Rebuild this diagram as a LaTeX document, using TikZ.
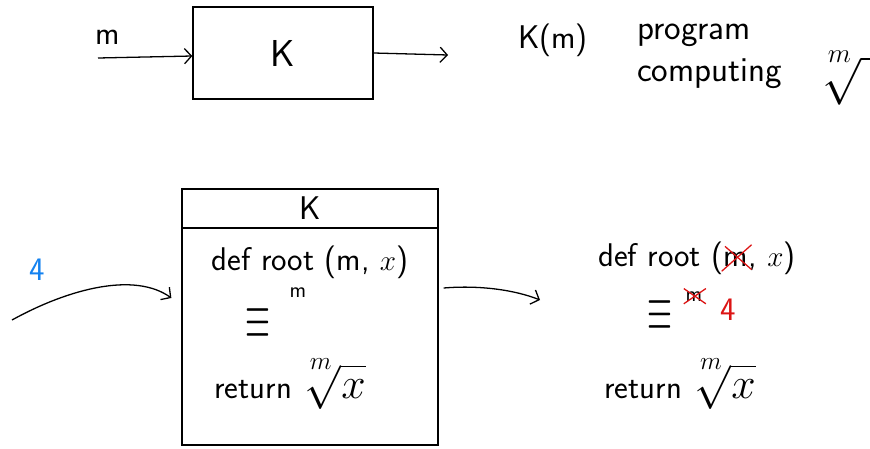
\documentclass[tikz,border=0pt]{standalone}
\usepackage{graphicx}
\usepackage{amsmath}
\usetikzlibrary{positioning, arrows.meta}
\definecolor{penblue}{RGB}{20,130,240}
\definecolor{penred}{RGB}{220,20,20}
\newcommand{\rootof}[1]{\scalebox{1.5}{$\sqrt[\uproot{6}\leftroot{-1}m]{#1}$}}
\begin{document}
\begin{tikzpicture}[
  x=0.03cm, y=-0.03cm,
  hand/.style  = {font=\sffamily\fontsize{28}{36}\selectfont, inner sep=0pt},
  small/.style = {font=\sffamily\fontsize{19}{22}\selectfont, inner sep=0pt},
  blackbox/.style = {draw, line width=1.1pt, inner sep=0pt},
  wire/.style  = {line width=1.1pt, -{Straight Barb[length=6pt,width=13pt]}},
  strike/.style = {penred, line width=1.1pt},
]
\useasboundingbox (0,0) rectangle (870,448);
% top: the program K as a black box
\node[blackbox, minimum width=5.4cm, minimum height=2.76cm, font=\sffamily\fontsize{32}{36}\selectfont] (ktop) at (283,53) {K};
\coordinate (min) at (98,58);
\coordinate (mout) at (448,55);
\node[hand] (mlab) at (108,37) {m};
\draw[wire] (min) -- ([yshift=-0.09cm]ktop.west);
\draw[wire] (ktop.east) -- (mout);
\node[hand] (km) at (553,40) {K(m)};
\node[hand, align=left, anchor=north west, font=\sffamily\fontsize{30}{36}\selectfont] (prog) at (637,24) {program\\computing};
\node[hand, anchor=west] (rt) at (812,78) {\scalebox{1.6}{$\sqrt[\uproot{6}\leftroot{-1}m]{\phantom{xx}}$}};
% bottom: K with its code inside
\node[blackbox, minimum width=7.68cm, minimum height=7.68cm] (kbig) at (310,317) {};
\node[blackbox, minimum width=7.68cm, minimum height=1.17cm, anchor=north, font=\sffamily\fontsize{28}{30}\selectfont] (khdr) at (kbig.north) {K};
\node[hand, penblue] (four) at (37,270) {4};
\coordinate (qin) at (12,320);
\coordinate (qout) at (540,300);
\draw[wire] (qin) .. controls (70,288) and (135,272) .. ([xshift=-0.3cm,yshift=0.57cm]kbig.west);
\draw[wire] ([xshift=0.15cm,yshift=0.87cm]kbig.east) .. controls (480,285) and (515,290) .. (qout);
\node[hand] (def1) at (310,262) {def root (m, $x$)};
\node[hand] (eq1) at (258,324) {\scalebox{1.1}[2.2]{$\equiv$}};
\node[small] (m1) at (298,293) {m};
\node[hand] (ret1) at (290,384) {return\hspace{3pt}\rootof{x}};
% right: the same code with m fixed to 4
\node[hand, anchor=base west] (def2a) at (598,266) {def root (};
\node[hand, anchor=base west] (m2) at (def2a.base east) {m};
\node[hand, anchor=base west] (def2b) at (m2.base east) {, $x$)};
\draw[strike] ([shift={(-0.05cm,-0.15cm)}]m2.south west) -- ([shift={(0.1cm,0.2cm)}]m2.north east);
\draw[strike] ([shift={(0.05cm,0.15cm)}]m2.north west) -- ([shift={(0.1cm,-0.1cm)}]m2.south east);
\node[hand] (eq2) at (660,316) {\scalebox{1.1}[2.2]{$\equiv$}};
\node[small] (m3) at (694,297) {m};
\draw[strike] ([shift={(-0.05cm,-0.05cm)}]m3.south west) -- ([shift={(0.1cm,0.1cm)}]m3.north east);
\draw[strike] ([shift={(-0.05cm,0.1cm)}]m3.north west) -- ([shift={(0.1cm,-0.05cm)}]m3.south east);
\node[hand, penred] (four2) at (728,310) {4};
\node[hand] (ret2) at (680,384) {return\hspace{3pt}\rootof{x}};
\end{tikzpicture}
\end{document}
